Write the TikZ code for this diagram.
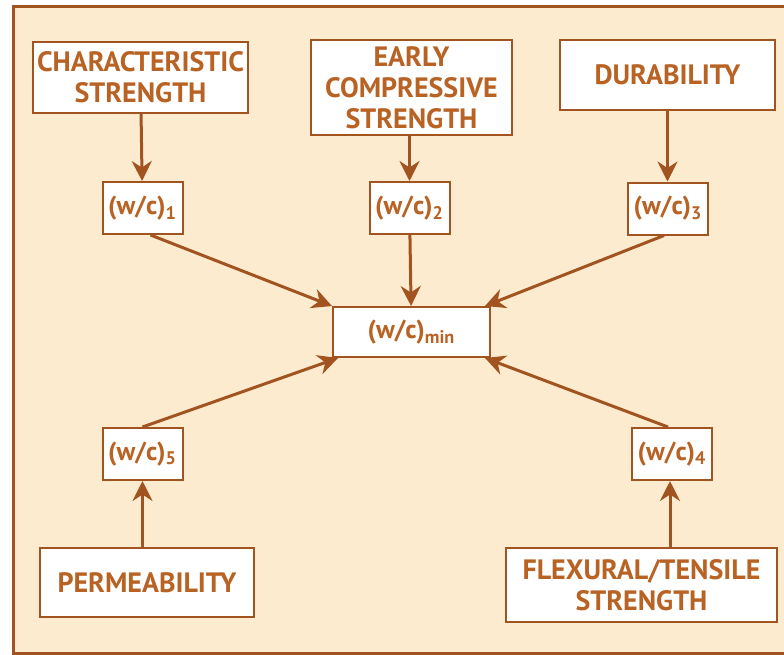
\documentclass[tikz,border=0pt]{standalone}
\usepackage{fontspec}
\setmainfont{PT Sans}
\usetikzlibrary{positioning,arrows.meta}
\definecolor{cbrown}{RGB}{162,84,32}
\definecolor{ctext}{RGB}{184,98,36}
\definecolor{cbeige}{RGB}{253,235,207}

\begin{document}
\begin{tikzpicture}[x=0.5pt, y=-0.5pt,
    >={Stealth[length=10pt, width=10pt]},
    factor/.style={draw=cbrown, fill=white, line width=1pt, text=ctext,
                   font=\bfseries\fontsize{14}{15.5}\selectfont, align=center,
                   inner sep=0pt},
    ratio/.style={factor, font=\bfseries\fontsize{13}{15}\selectfont,
                  minimum width=40pt, minimum height=26pt},
    arrow/.style={->, line width=1.5pt, color=cbrown},
  ]
  \useasboundingbox (0,0) rectangle (784,655);
  \clip (0,0) rectangle (784,655);
  % Frame
  \draw[cbrown, line width=1.5pt, fill=cbeige] (13,6) rectangle (800,653);

  % Requirements
  \node[factor, minimum width=107.5pt, minimum height=35.5pt]
    (char) at (140.5,77.5) {CHARACTERISTIC\\STRENGTH};
  \node[factor, minimum width=100.5pt, minimum height=47.5pt]
    (early) at (411.5,87.5) {EARLY\\COMPRESSIVE\\STRENGTH};
  \node[factor, minimum width=107.5pt, minimum height=35pt]
    (dur) at (667.5,75) {DURABILITY};
  \node[factor, minimum width=107pt, minimum height=34.5pt]
    (perm) at (147,582.5) {PERMEABILITY};
  \node[factor, minimum width=135.5pt, minimum height=37pt]
    (flex) at (641.5,585) {FLEXURAL/TENSILE\\STRENGTH};

  % Water/cement ratios
  \node[ratio] (wc1) at (142.5,208) {(w/c)\textsubscript{1}};
  \node[ratio] (wc2) at (409.5,208) {(w/c)\textsubscript{2}};
  \node[ratio] (wc3) at (668,208.5) {(w/c)\textsubscript{3}};
  \node[ratio] (wc4) at (672,454) {(w/c)\textsubscript{4}};
  \node[ratio] (wc5) at (142.5,454) {(w/c)\textsubscript{5}};
  \node[ratio, minimum width=78.5pt, minimum height=25pt]
    (wcmin) at (411.5,332) {(w/c)\textsubscript{min}};

  % Arrows
  \draw[arrow] (char) -- (wc1);
  \draw[arrow] (early.south -| wc2) -- (wc2);
  \draw[arrow] (dur) -- (dur |- wc3.north);
  \draw[arrow] ([xshift=4pt]wc1.south) -- (wcmin.north west);
  \draw[arrow] (wc2) -- (wcmin);
  \draw[arrow] ([xshift=-2pt]wc3.south) -- ([xshift=-3pt]wcmin.north east);
  \draw[arrow] (wc5.north) -- ([xshift=3pt]wcmin.south west);
  \draw[arrow] ([xshift=-2pt]wc4.north) -- ([xshift=-3pt]wcmin.south east);
  \draw[arrow] (perm.north -| wc5) -- (wc5);
  \draw[arrow] ([xshift=-1pt]flex.north -| wc4) -- ([xshift=-1pt]wc4.south);
\end{tikzpicture}
\end{document}
